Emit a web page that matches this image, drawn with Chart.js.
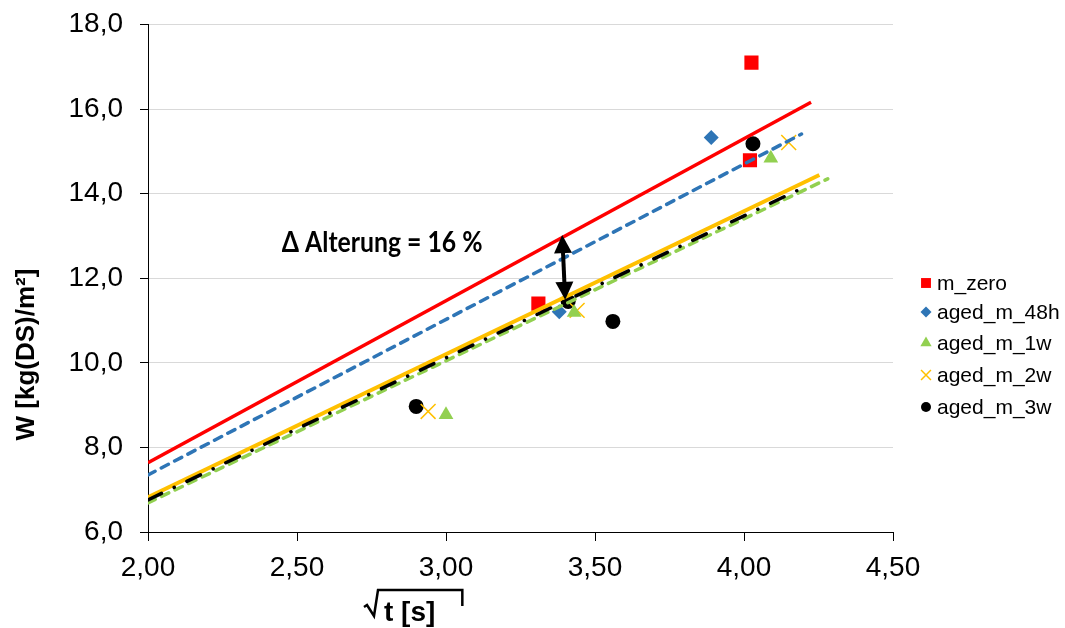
<!DOCTYPE html>
<html lang="de">
<head>
<meta charset="UTF-8" />
<title>Alterung – W über Wurzel t</title>
<script src="https://cdn.jsdelivr.net/npm/chart.js"></script>
<style>
    html, body {
        margin: 0;
        padding: 0;
        background: #ffffff;
    }

    #wrap {
        width: 1065px;
        height: 628px;
    }
</style>
</head>
<body>
<div id="wrap">
    <canvas id="ageChart" width="1065" height="628"></canvas>
</div>

<script>
    // measured points, sqrt(t) against W
    const mZeroX = [3.31, 4.02, 4.025];
    const mZeroY = [11.40, 14.79, 17.10];
    const aged48hX = [3.38, 3.89];
    const aged48hY = [11.21, 15.33];
    const aged1wX = [3.00, 3.43, 4.09];
    const aged1wY = [8.77, 11.19, 14.84];
    const aged2wX = [2.94, 3.44, 4.15];
    const aged2wY = [8.85, 11.24, 15.21];
    const aged3wX = [2.90, 3.41, 3.56, 4.03];
    const aged3wY = [8.97, 11.45, 10.98, 15.18];

    // linear trend lines: start / end of each fit
    const trendX0 = [2.00, 2.00, 2.00, 2.00, 2.00];
    const trendY0 = [7.64, 7.35, 6.69, 6.82, 6.76];
    const trendX1 = [4.225, 4.193, 4.281, 4.253, 4.216];
    const trendY1 = [16.16, 15.41, 14.35, 14.44, 14.20];

    const seriesNames = ['m_zero', 'aged_m_48h', 'aged_m_1w', 'aged_m_2w', 'aged_m_3w'];

    // difference between fresh and aged fit
    const arrowX = [3.39, 3.40];
    const arrowY = [13.02, 11.49];
    const deltaLabel = 'Δ Alterung = 16 %';
    const deltaPos = { x: 2.449, y: 12.63 };

    const xTicks = { min: 2.0, max: 4.5, step: 0.5 };
    const yTicks = { min: 6.0, max: 18.0, step: 2.0 };

    const RED = '#ff0000';
    const BLUE = '#2e75b6';
    const GREEN = '#92d050';
    const ORANGE = '#ffc000';
    const BLACK = '#000000';

    Chart.defaults.font.family = "'Liberation Sans', Arial, sans-serif";
    Chart.defaults.color = '#000000';

    function pts(xs, ys) {
        return xs.map((v, i) => ({ x: v, y: ys[i] }));
    }

    function trend(i) {
        return [{ x: trendX0[i], y: trendY0[i] }, { x: trendX1[i], y: trendY1[i] }];
    }

    const trendStyle = [
        { color: RED, width: 3.5, dash: [], cap: 'butt' },
        { color: BLUE, width: 3.5, dash: [8, 7], cap: 'round' },
        { color: GREEN, width: 3.5, dash: [8, 7], cap: 'round' },
        { color: ORANGE, width: 4, dash: [], cap: 'butt' },
        { color: BLACK, width: 3.5, dash: [15, 14, 0.1, 14], cap: 'round' }
    ];
    // black on top, then orange, green, blue, red
    const trendOrder = [4, 3, 2, 1, 0];

    const trendSets = trendStyle.map((s, i) => ({
        label: seriesNames[i] + ' trend',
        data: trend(i),
        showLine: true,
        borderColor: s.color,
        borderWidth: s.width,
        borderDash: s.dash,
        borderCapStyle: s.cap,
        pointRadius: 0,
        fill: false,
        tension: 0,
        order: trendOrder[i]
    }));

    const markerSets = [
        { label: seriesNames[0], data: pts(mZeroX, mZeroY), pointStyle: 'rect', pointRadius: 10, backgroundColor: RED, borderColor: RED, borderWidth: 0 },
        { label: seriesNames[1], data: pts(aged48hX, aged48hY), pointStyle: 'rectRot', pointRadius: 7.5, backgroundColor: BLUE, borderColor: BLUE, borderWidth: 0 },
        { label: seriesNames[2], data: pts(aged1wX, aged1wY), pointStyle: 'triangle', pointRadius: 8.5, backgroundColor: GREEN, borderColor: GREEN, borderWidth: 0 },
        { label: seriesNames[3], data: pts(aged2wX, aged2wY), pointStyle: 'crossRot', pointRadius: 10.5, backgroundColor: ORANGE, borderColor: ORANGE, borderWidth: 1.5 },
        { label: seriesNames[4], data: pts(aged3wX, aged3wY), pointStyle: 'circle', pointRadius: 7.5, backgroundColor: BLACK, borderColor: BLACK, borderWidth: 0 }
    ].map((d, i) => Object.assign(d, { showLine: false, order: 10 + i, pointHoverRadius: d.pointRadius }));

    function drawMarker(ctx, style, r, bw, x, y) {
        if (Chart.helpers && Chart.helpers.drawPoint) {
            Chart.helpers.drawPoint(ctx, { pointStyle: style, radius: r, rotation: 0, borderWidth: bw }, x, y);
            return;
        }
        ctx.beginPath();
        ctx.arc(x, y, r, 0, Math.PI * 2);
        ctx.fill();
    }

    const overlay = {
        id: 'overlay',
        afterDatasetsDraw(chart) {
            const ctx = chart.ctx;
            const xs = chart.scales.x;
            const ys = chart.scales.y;

            // double arrow between the two fits
            const ax0 = xs.getPixelForValue(arrowX[0]);
            const ay0 = ys.getPixelForValue(arrowY[0]);
            const ax1 = xs.getPixelForValue(arrowX[1]);
            const ay1 = ys.getPixelForValue(arrowY[1]);
            const ang = Math.atan2(ay1 - ay0, ax1 - ax0);
            const headLen = 18;
            const headHalf = 9;
            ctx.save();
            ctx.strokeStyle = BLACK;
            ctx.fillStyle = BLACK;
            ctx.lineWidth = 4;
            ctx.beginPath();
            ctx.moveTo(ax0 + Math.cos(ang) * (headLen - 2), ay0 + Math.sin(ang) * (headLen - 2));
            ctx.lineTo(ax1 - Math.cos(ang) * (headLen - 2), ay1 - Math.sin(ang) * (headLen - 2));
            ctx.stroke();
            [[ax0, ay0, ang], [ax1, ay1, ang + Math.PI]].forEach(([tx, ty, a]) => {
                const bx = tx + Math.cos(a) * headLen;
                const by = ty + Math.sin(a) * headLen;
                ctx.beginPath();
                ctx.moveTo(tx, ty);
                ctx.lineTo(bx - Math.sin(a) * headHalf, by + Math.cos(a) * headHalf);
                ctx.lineTo(bx + Math.sin(a) * headHalf, by - Math.cos(a) * headHalf);
                ctx.closePath();
                ctx.fill();
            });

            // label of the arrow, set a little condensed
            ctx.font = "bold 28px Lato, 'Liberation Sans', sans-serif";
            ctx.textAlign = 'left';
            ctx.textBaseline = 'alphabetic';
            ctx.translate(xs.getPixelForValue(deltaPos.x), ys.getPixelForValue(deltaPos.y));
            ctx.scale(0.885, 1);
            ctx.fillText(deltaLabel, 0, 0);
            ctx.restore();
        },
        afterDraw(chart) {
            const ctx = chart.ctx;
            const area = chart.chartArea;

            // y axis title
            ctx.save();
            ctx.fillStyle = BLACK;
            ctx.font = "bold 26px 'Liberation Sans', Arial, sans-serif";
            ctx.translate(27, area.top + 330);
            ctx.rotate(-Math.PI / 2);
            ctx.textAlign = 'center';
            ctx.textBaseline = 'middle';
            ctx.fillText('W [kg(DS)/m²]', 0, 0);
            ctx.restore();

            // x axis title under a root sign
            ctx.save();
            ctx.fillStyle = BLACK;
            ctx.strokeStyle = BLACK;
            ctx.font = "bold 28px 'Liberation Sans', Arial, sans-serif";
            const tx = area.left + 236;
            const tb = chart.height - 7;
            ctx.textAlign = 'left';
            ctx.textBaseline = 'alphabetic';
            ctx.fillText('t [s]', tx, tb);
            const tw = ctx.measureText('t [s]').width;
            const top = tb - 31;
            ctx.lineWidth = 2.5;
            ctx.lineJoin = 'miter';
            ctx.beginPath();
            ctx.moveTo(tx - 20, top + 17);
            ctx.lineTo(tx - 17, top + 15);
            ctx.lineTo(tx - 10, top + 26);
            ctx.lineTo(tx - 6, top);
            ctx.lineTo(tx + tw + 27, top);
            ctx.lineTo(tx + tw + 27, top + 16);
            ctx.stroke();
            ctx.restore();

            // legend for the measured series
            ctx.save();
            const lx = area.right + 33;
            const ly = [283, 312, 343, 375, 407];
            const legendR = [7, 5.5, 6.5, 7, 5];
            ctx.font = "21px 'Liberation Sans', Arial, sans-serif";
            ctx.textBaseline = 'middle';
            ctx.textAlign = 'left';
            markerSets.forEach((ds, i) => {
                ctx.fillStyle = ds.backgroundColor;
                ctx.strokeStyle = ds.borderColor;
                ctx.lineWidth = ds.borderWidth;
                drawMarker(ctx, ds.pointStyle, legendR[i], ds.borderWidth, lx, ly[i]);
                ctx.fillStyle = BLACK;
                ctx.fillText(ds.label, lx + 11, ly[i] + 1);
            });
            ctx.restore();
        }
    };

    const fmt = (v, d) => v.toFixed(d).replace('.', ',');

    new Chart(document.getElementById('ageChart').getContext('2d'), {
        type: 'scatter',
        data: { datasets: trendSets.concat(markerSets) },
        options: {
            responsive: false,
            animation: false,
            devicePixelRatio: 1,
            layout: { padding: { top: 24.5, right: 172, bottom: 0, left: 0 } },
            plugins: {
                legend: { display: false },
                tooltip: { enabled: false }
            },
            scales: {
                x: {
                    type: 'linear',
                    min: xTicks.min,
                    max: xTicks.max,
                    afterFit(scale) {
                        scale.height = 96;
                        scale.paddingLeft = 0;
                        scale.paddingRight = 0;
                    },
                    ticks: {
                        stepSize: xTicks.step,
                        padding: 10,
                        color: BLACK,
                        font: { size: 28 },
                        callback: v => fmt(v, 2)
                    },
                    grid: {
                        drawOnChartArea: false,
                        tickLength: 9,
                        color: BLACK,
                        tickColor: BLACK
                    },
                    border: { color: BLACK, width: 1 }
                },
                y: {
                    type: 'linear',
                    min: yTicks.min,
                    max: yTicks.max,
                    afterFit(scale) {
                        scale.width = 148;
                        scale.paddingTop = 0;
                        scale.paddingBottom = 0;
                    },
                    ticks: {
                        stepSize: yTicks.step,
                        padding: 17,
                        color: BLACK,
                        font: { size: 28 },
                        callback: v => fmt(v, 1)
                    },
                    grid: {
                        color: '#d9d9d9',
                        tickColor: BLACK,
                        tickLength: 8,
                        lineWidth: 1
                    },
                    border: { color: BLACK, width: 1 }
                }
            }
        },
        plugins: [overlay]
    });
</script>
</body>
</html>
